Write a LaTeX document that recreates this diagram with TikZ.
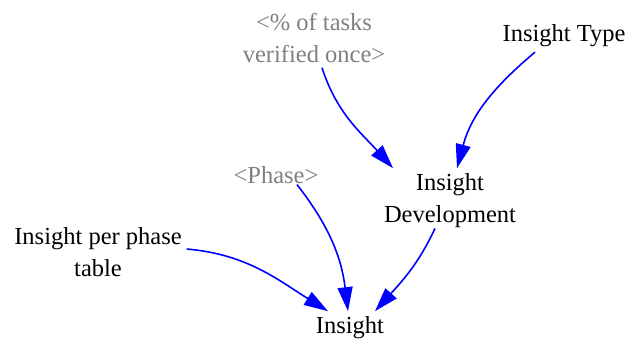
\documentclass[tikz,border=0pt]{standalone}
\usepackage{fontspec}
\setmainfont{Liberation Serif}
\usetikzlibrary{arrows.meta}

\tikzset{
  var/.style={align=center, inner sep=0pt, outer sep=5pt,
    font=\fontsize{24.5}{32}\selectfont},
  shadow/.style={var, text=gray},
  link/.style={draw=blue, line width=1.6pt,
    -{Triangle[length=24pt,width=15pt]}, fill=none}
}

\begin{document}
\begin{tikzpicture}[x=1pt,y=1pt]
\useasboundingbox (0,0) rectangle (628,341);

\node[shadow] (tasks) at (314,303) {<\% of tasks\\verified once>};
\node[var] (type) at (564,305) {Insight Type};
\node[shadow] (phase) at (276,166) {<Phase>};
\node[var] (dev) at (450,140.7) {Insight\\Development};
\node[var] (table) at (98,89) {Insight per phase\\table};
\node[var] (ins) at (350,13.7) {Insight};

\draw[link] ([xshift=8pt]tasks.south) to[out=-72,in=132] ([xshift=-57pt]dev.north);
\draw[link] ([xshift=-29pt]type.south) to[out=-140,in=75] ([xshift=7pt]dev.north);
\draw[link] ([xshift=21pt,yshift=4pt]phase.south) to[out=-52,in=97] ([xshift=-2pt]ins.north);
\draw[link] ([xshift=-15pt,yshift=4pt]dev.south) to[out=-115,in=48] ([xshift=25pt]ins.north);
\draw[link] ([yshift=3pt]table.east) to[out=-5,in=148] ([xshift=-22pt]ins.north);
\end{tikzpicture}
\end{document}
